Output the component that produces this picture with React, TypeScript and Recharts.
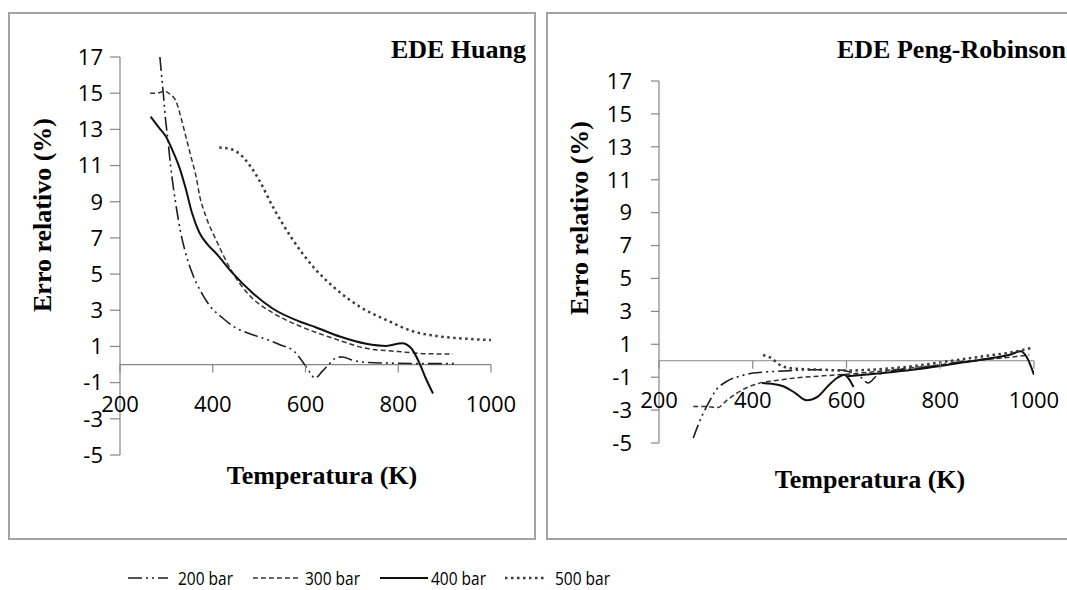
import React from "react";
import { LineChart, Line, XAxis, YAxis, ReferenceLine } from "recharts";

// Relative error (%) vs temperature (K)
const X_TICKS = [200, 400, 600, 800, 1000];
const Y_TICKS = [-5, -3, -1, 1, 3, 5, 7, 9, 11, 13, 15, 17];
const SERIES_NAMES = ["200 bar", "300 bar", "400 bar", "500 bar"];

const HUANG_200: [number, number][] = [
  [286, 17.0], [290, 15.9], [294, 14.8], [298, 13.6], [303, 12.5], [309, 11.0],
  [315, 9.8], [322, 8.6], [330, 7.4], [340, 6.3], [355, 5.1], [375, 4.0],
  [395, 3.2], [420, 2.6], [445, 2.1], [480, 1.7], [515, 1.4], [545, 1.1],
  [576, 0.72], [598, 0.0], [610, -0.45], [620, -0.75], [637, -0.35], [652, 0.05],
  [668, 0.4], [680, 0.42], [700, 0.25], [730, 0.12], [800, 0.07], [860, 0.05], [922, 0.05],
];
const HUANG_300: [number, number][] = [
  [265, 15.0], [280, 15.0], [295, 15.1], [310, 14.9], [320, 14.6], [331, 13.7],
  [342, 12.6], [353, 11.5], [364, 10.4], [372, 9.3], [385, 8.2], [407, 6.9],
  [440, 5.2], [480, 3.8], [530, 2.85], [590, 2.1], [660, 1.45], [730, 0.9],
  [800, 0.72], [860, 0.6], [918, 0.58],
];
const HUANG_400: [number, number][] = [
  [266, 13.7], [284, 13.1], [299, 12.6], [313, 11.85], [328, 10.9], [342, 9.7],
  [355, 8.4], [371, 7.3], [390, 6.6], [407, 6.15], [443, 5.05], [486, 3.95],
  [529, 3.1], [587, 2.38], [623, 2.05], [674, 1.55], [731, 1.15], [774, 1.03],
  [808, 1.18], [828, 0.9], [846, 0.06], [860, -0.8], [875, -1.6],
];
const HUANG_500: [number, number][] = [
  [414, 12.0], [440, 11.9], [460, 11.6], [480, 11.0], [500, 10.2], [530, 8.7],
  [570, 7.0], [620, 5.3], [660, 4.3], [720, 3.15], [780, 2.4], [830, 1.85],
  [890, 1.55], [950, 1.42], [1000, 1.35],
];

const PR_200: [number, number][] = [
  [273, -4.7], [291, -3.4], [309, -2.4], [320, -1.85], [345, -1.25], [375, -0.92],
  [400, -0.75], [430, -0.68], [480, -0.6], [530, -0.55], [580, -0.55], [610, -0.7],
  [630, -1.0], [646, -1.35], [665, -0.9], [690, -0.65], [750, -0.45], [800, -0.25],
  [850, -0.05], [900, 0.1], [940, 0.25],
];
const PR_300: [number, number][] = [
  [273, -2.78], [300, -2.78], [325, -2.85], [345, -2.4], [366, -1.97], [390, -1.6],
  [415, -1.36], [450, -1.2], [490, -1.05], [550, -0.92], [600, -0.82], [650, -0.7],
  [700, -0.55], [750, -0.4], [800, -0.25], [850, -0.08], [900, 0.08], [950, 0.22], [990, 0.35],
];
const PR_400: [number, number | null][] = [
  [420, -1.35], [440, -1.4], [465, -1.55], [490, -1.95], [515, -2.4], [540, -2.15],
  [560, -1.55], [580, -1.05], [595, -0.85], [605, -1.1], [615, -1.6], [615, null],
  [600, -0.95], [650, -0.82], [700, -0.68], [750, -0.52], [800, -0.32], [850, -0.1],
  [900, 0.12], [950, 0.38], [972, 0.58], [985, 0.2], [1000, -0.85],
];
const PR_500: [number, number][] = [
  [422, 0.35], [440, 0.15], [455, -0.2], [470, -0.4], [500, -0.5], [550, -0.55],
  [600, -0.6], [650, -0.55], [700, -0.45], [750, -0.3], [800, -0.1], [850, 0.1],
  [900, 0.3], [950, 0.5], [998, 0.8],
];

const AXIS = "#868686";
const TICK_FONT = "'Open Sans', sans-serif";
const TITLE_FONT = "'Liberation Serif', 'Times New Roman', serif";

const STYLES = [
  { stroke: "#1e1e1e", width: 1.6, dash: "14 4 2 4 2 4" },
  { stroke: "#333", width: 1.5, dash: "5 3" },
  { stroke: "#111", width: 2, dash: undefined },
  { stroke: "#3a3a3a", width: 2.5, dash: "2.5 3.5" },
];

const toRows = (pts: [number, number | null][]) => pts.map(([t, e]) => ({ t, e }));

type PanelProps = {
  left: number;
  width: number;
  height: number;
  margin: { top: number; right: number; bottom: number; left: number };
  yTickSize: number;
  yTickMargin: number;
  series: [number, number | null][][];
};

function Panel({ left, width, height, margin, yTickSize, yTickMargin, series }: PanelProps) {
  const plotTop = margin.top;
  const plotBottom = height - margin.bottom - 30;
  const zeroY = plotTop + (17 / 22) * (plotBottom - plotTop);

  const XTick = (props: any) => {
    const { x, payload } = props;
    return (
      <g>
        <line x1={x} x2={x} y1={zeroY} y2={zeroY + 8} stroke={AXIS} strokeWidth={1.2} />
        <text
          x={x}
          y={zeroY + 38}
          textAnchor="middle"
          dominantBaseline="central"
          fontSize={22}
          fontFamily={TICK_FONT}
          fill="#000"
        >
          {payload.value}
        </text>
      </g>
    );
  };

  return (
    <div style={{ position: "absolute", left, top: 0 }}>
      <LineChart width={width} height={height} margin={margin}>
        <XAxis
          type="number"
          dataKey="t"
          domain={[200, 1000]}
          ticks={X_TICKS}
          interval={0}
          allowDataOverflow
          axisLine={false}
          tickLine={false}
          height={30}
          tick={XTick}
        />
        <YAxis
          type="number"
          domain={[-5, 17]}
          ticks={Y_TICKS}
          interval={0}
          width={60}
          allowDataOverflow
          axisLine={{ stroke: AXIS, strokeWidth: 1.2 }}
          tickLine={{ stroke: AXIS, strokeWidth: 1.2 }}
          tickSize={yTickSize}
          tickMargin={yTickMargin}
          tick={{ fontSize: 22, fontFamily: TICK_FONT, fill: "#000" }}
        />
        <ReferenceLine y={0} stroke={AXIS} strokeWidth={1.2} />
        {series.map((pts, i) => (
          <Line
            key={SERIES_NAMES[i]}
            name={SERIES_NAMES[i]}
            data={toRows(pts)}
            dataKey="e"
            type="monotone"
            stroke={STYLES[i].stroke}
            strokeWidth={STYLES[i].width}
            strokeDasharray={STYLES[i].dash}
            dot={false}
            activeDot={false}
            connectNulls={false}
            isAnimationActive={false}
          />
        ))}
      </LineChart>
    </div>
  );
}

const boxStyle = (left: number): React.CSSProperties => ({
  position: "absolute",
  left,
  top: 12,
  width: 528,
  height: 528,
  border: "2px solid #a2a2a2",
  boxSizing: "border-box",
});

const titleStyle = (x: number, y: number, rotate = false, anchor = "center"): React.CSSProperties => ({
  position: "absolute",
  left: x,
  top: y,
  transform:
    anchor === "right"
      ? "translate(-100%, -50%)"
      : rotate
      ? "translate(-50%, -50%) rotate(-90deg)"
      : "translate(-50%, -50%)",
  fontFamily: TITLE_FONT,
  fontWeight: "bold",
  fontSize: 26,
  whiteSpace: "nowrap",
  color: "#000",
  lineHeight: 1,
});

const LEGEND_POS = [
  { line: 128, len: 40, text: 178 },
  { line: 253, len: 47, text: 305 },
  { line: 380, len: 48, text: 431 },
  { line: 505, len: 42, text: 555 },
];

export default function App() {
  return (
    <div
      style={{
        position: "absolute",
        left: 0,
        top: 0,
        width: 1067,
        height: 590,
        overflow: "hidden",
        background: "#fff",
      }}
    >
      <div style={boxStyle(8)} />
      <div style={boxStyle(546)} />

      <Panel
        left={0}
        width={540}
        height={560}
        margin={{ top: 57, right: 49, bottom: 75, left: 60 }}
        yTickSize={10}
        yTickMargin={7}
        series={[HUANG_200, HUANG_300, HUANG_400, HUANG_500]}
      />
      <Panel
        left={540}
        width={527}
        height={560}
        margin={{ top: 81, right: 33, bottom: 87, left: 59 }}
        yTickSize={8}
        yTickMargin={19}
        series={[PR_200, PR_300, PR_400, PR_500]}
      />

      <div style={titleStyle(526, 50, false, "right")}>EDE Huang</div>
      <div style={titleStyle(1066, 50, false, "right")}>EDE Peng-Robinson</div>
      <div style={titleStyle(43, 215, true)}>Erro relativo (%)</div>
      <div style={titleStyle(580, 218, true)}>Erro relativo (%)</div>
      <div style={titleStyle(322, 476)}>Temperatura (K)</div>
      <div style={titleStyle(870, 480)}>Temperatura (K)</div>

      {SERIES_NAMES.map((name, i) => (
        <React.Fragment key={name}>
          <svg
            style={{ position: "absolute", left: LEGEND_POS[i].line, top: 572 }}
            width={LEGEND_POS[i].len}
            height={12}
          >
            <line
              x1={0}
              x2={LEGEND_POS[i].len}
              y1={6}
              y2={6}
              stroke={STYLES[i].stroke}
              strokeWidth={STYLES[i].width}
              strokeDasharray={STYLES[i].dash}
            />
          </svg>
          <div
            style={{
              position: "absolute",
              left: LEGEND_POS[i].text,
              top: 578,
              transform: "translateY(-50%) scaleX(0.86)",
              transformOrigin: "left center",
              fontFamily: "'Open Sans', sans-serif",
              fontSize: 18,
              whiteSpace: "nowrap",
              lineHeight: 1,
            }}
          >
            {name}
          </div>
        </React.Fragment>
      ))}
    </div>
  );
}
